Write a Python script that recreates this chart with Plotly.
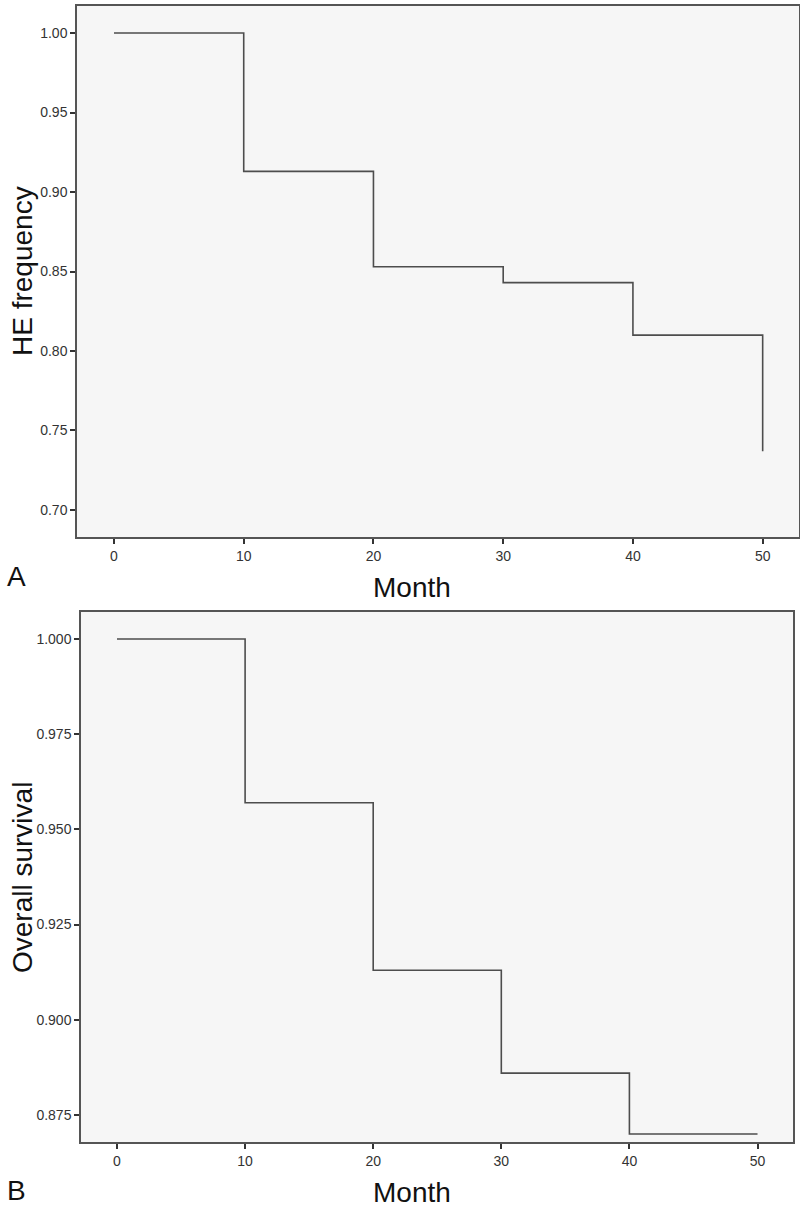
import plotly.graph_objects as go

# Data
months = [0, 10, 20, 30, 40, 50]
he_frequency = [1.000, 0.913, 0.853, 0.843, 0.810, 0.737]
overall_survival = [1.000, 0.957, 0.913, 0.886, 0.870, 0.870]
he_ticks = [0.70, 0.75, 0.80, 0.85, 0.90, 0.95, 1.00]
os_ticks = [0.875, 0.900, 0.925, 0.950, 0.975, 1.000]
x_ticks = [0, 10, 20, 30, 40, 50]

W, H = 800, 1209
LINE = "#4d4d4d"
FRAME = "#555555"
BG = "#f6f6f6"
TICKFONT = "Liberation Sans Narrow, Liberation Sans, Arial, sans-serif"
TITLEFONT = "Liberation Sans, Arial, sans-serif"

fig = go.Figure()
fig.add_trace(go.Scatter(x=months, y=he_frequency, mode="lines", line_shape="hv",
                         line=dict(color=LINE, width=1.6), xaxis="x", yaxis="y",
                         showlegend=False, hoverinfo="x+y"))
fig.add_trace(go.Scatter(x=months, y=overall_survival, mode="lines", line_shape="hv",
                         line=dict(color=LINE, width=1.6), xaxis="x2", yaxis="y2",
                         showlegend=False, hoverinfo="x+y"))

axcommon = dict(showgrid=False, zeroline=False, showline=True, mirror=True,
                linecolor=FRAME, linewidth=1.5, ticks="outside", ticklen=5,
                tickwidth=1.5, tickcolor="#333333",
                tickfont=dict(family=TICKFONT, size=14, color="#333333"))

fig.update_layout(
    width=W, height=H,
    margin=dict(l=0, r=0, t=0, b=0),
    paper_bgcolor="white",
    plot_bgcolor=BG,
    xaxis=dict(domain=[77 / W, 799 / W], range=[-2.85, 52.8], tickvals=x_ticks,
               anchor="y", **axcommon),
    yaxis=dict(domain=[1 - 537 / H, 1 - 6 / H], range=[0.683, 1.017], tickvals=he_ticks,
               tickformat=".2f", anchor="x", **axcommon),
    xaxis2=dict(domain=[81 / W, 793 / W], range=[-2.81, 52.77], tickvals=x_ticks,
                anchor="y2", **axcommon),
    yaxis2=dict(domain=[1 - 1142 / H, 1 - 612 / H], range=[0.8679, 1.0071], tickvals=os_ticks,
                tickformat=".3f", anchor="x2", **axcommon),
)

def ann(text, x, y, size=28, angle=0):
    fig.add_annotation(text=text, x=x / W, y=1 - y / H, xref="paper", yref="paper",
                       xanchor="center", yanchor="middle",
                       showarrow=False, textangle=angle,
                       font=dict(family=TITLEFONT, size=size, color="#111111"))

ann("HE frequency", 22, 271, angle=-90)
ann("Month", 412, 588)
ann("A", 16, 576)
ann("Overall survival", 22, 878, angle=-90)
ann("Month", 412, 1192)
ann("B", 16, 1190)

fig.write_html("out.html", config={"displayModeBar": False},
               post_script="document.body.style.margin='0px';document.body.style.overflow='hidden';")
